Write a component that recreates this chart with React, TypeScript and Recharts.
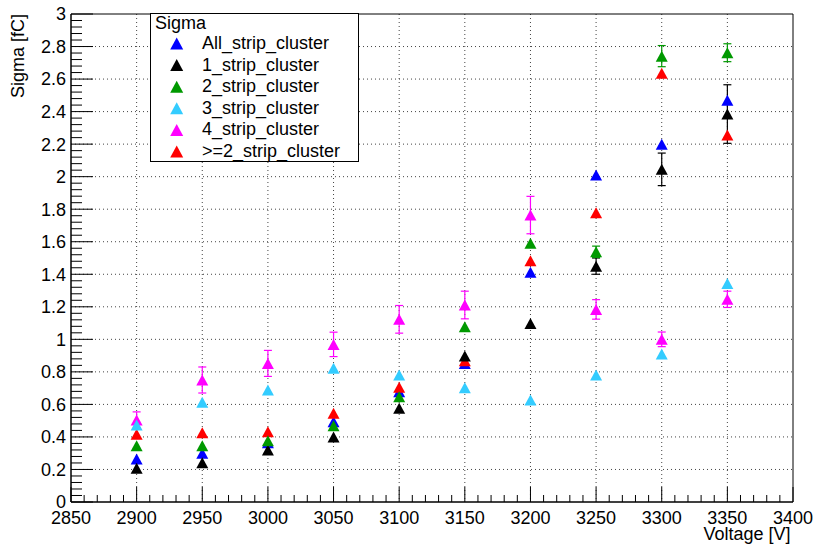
import React from 'react';
import {
  ScatterChart,
  Scatter,
  XAxis,
  YAxis,
  CartesianGrid,
  ErrorBar,
  ReferenceArea,
  Legend,
} from 'recharts';

const FONT = '"Liberation Sans", Arial, Helvetica, sans-serif';

// ---- data ----
const voltages = [2900, 2950, 3000, 3050, 3100, 3150, 3200, 3250, 3300, 3350];

const sigmaAll = [0.264, 0.3, 0.365, 0.494, 0.678, 0.852, 1.412, 2.01, 2.2, 2.47];
const errAll = [0, 0, 0, 0, 0, 0, 0, 0, 0, 0];

const sigma1 = [0.207, 0.242, 0.32, 0.4, 0.576, 0.897, 1.098, 1.45, 2.045, 2.385];
const err1 = [0, 0, 0, 0, 0, 0, 0, 0.05, 0.1, 0.18];

const sigma2 = [0.346, 0.346, 0.377, 0.469, 0.647, 1.078, 1.59, 1.538, 2.741, 2.762];
const err2 = [0, 0, 0, 0, 0, 0, 0, 0.035, 0.065, 0.055];

const sigma3 = [0.473, 0.613, 0.688, 0.822, 0.78, 0.703, 0.627, 0.78, 0.91, 1.344];
const err3 = [0, 0, 0, 0, 0, 0, 0, 0, 0, 0];

const sigma4 = [0.504, 0.75, 0.852, 0.969, 1.123, 1.211, 1.764, 1.184, 1.0, 1.246];
const err4 = [0.05, 0.08, 0.08, 0.075, 0.085, 0.085, 0.115, 0.06, 0.045, 0.05];

const sigmaGe2 = [0.416, 0.426, 0.432, 0.545, 0.705, 0.868, 1.483, 1.778, 2.635, 2.256];
const errGe2 = [0, 0, 0, 0, 0, 0, 0, 0, 0, 0];

const seriesNames = ['All_strip_cluster', '1_strip_cluster', '2_strip_cluster', '3_strip_cluster', '4_strip_cluster', '>=2_strip_cluster'];
const seriesColors = ['#0000ff', '#000000', '#009900', '#33ccff', '#ff00ff', '#ff0000'];
const seriesValues = [sigmaAll, sigma1, sigma2, sigma3, sigma4, sigmaGe2];
const seriesErrors = [errAll, err1, err2, err3, err4, errGe2];
// drawing order (later on top)
const drawOrder = [0, 5, 1, 2, 4, 3];

const legendTitle = 'Sigma';
const xTitle = 'Voltage [V]';
const yTitle = 'Sigma [fC]';

// ---- axes ----
const xMajorValues = [2850, 2900, 2950, 3000, 3050, 3100, 3150, 3200, 3250, 3300, 3350, 3400];
const xMajorLabels = ['2850', '2900', '2950', '3000', '3050', '3100', '3150', '3200', '3250', '3300', '3350', '3400'];
const xTicks = Array.from({ length: 56 }, (_, i) => 2850 + i * 10);
const xGrid = [2900, 2950, 3000, 3050, 3100, 3150, 3200, 3250, 3300, 3350];

const yMajorValues = [0, 0.2, 0.4, 0.6, 0.8, 1, 1.2, 1.4, 1.6, 1.8, 2, 2.2, 2.4, 2.6, 2.8, 3];
const yMajorLabels = ['0', '0.2', '0.4', '0.6', '0.8', '1', '1.2', '1.4', '1.6', '1.8', '2', '2.2', '2.4', '2.6', '2.8', '3'];
const yTicks = Array.from({ length: 76 }, (_, i) => Number((i * 0.04).toFixed(2)));
const yGrid = [0.2, 0.4, 0.6, 0.8, 1, 1.2, 1.4, 1.6, 1.8, 2, 2.2, 2.4, 2.6, 2.8];

const findMajor = (vals: number[], v: number) => vals.findIndex((m) => Math.abs(m - v) < 1e-6);

const XTick = (props: any) => {
  const { x, y, payload } = props;
  const idx = findMajor(xMajorValues, payload.value);
  const major = idx >= 0;
  return (
    <g>
      <line x1={x} x2={x} y1={y} y2={y - (major ? 15 : 7)} stroke="#000" strokeWidth={1} />
      {major && (
        <text x={x} y={y + 21.5} textAnchor="middle" fontSize={18} fontFamily={FONT} fill="#000">
          {xMajorLabels[idx]}
        </text>
      )}
    </g>
  );
};

const YTick = (props: any) => {
  const { x, y, payload } = props;
  const idx = findMajor(yMajorValues, payload.value);
  const major = idx >= 0;
  return (
    <g>
      <line x1={x} x2={x + (major ? 22 : 11)} y1={y} y2={y} stroke="#000" strokeWidth={1} />
      {major && (
        <text x={x - 5} y={y + 6.4} textAnchor="end" fontSize={18} fontFamily={FONT} fill="#000">
          {yMajorLabels[idx]}
        </text>
      )}
    </g>
  );
};

const triPath = (cx: number, cy: number, w: number, h: number) =>
  `M${cx - w / 2},${cy + h / 2} L${cx + w / 2},${cy + h / 2} L${cx},${cy - h / 2} Z`;

const makeShape = (color: string) => (props: any) => {
  const { cx, cy } = props;
  if (cx == null || cy == null) return <g />;
  return <path d={triPath(cx, cy, 12, 11)} fill={color} stroke="none" />;
};

const LegendBox = () => (
  <svg width={209} height={149} style={{ display: 'block' }}>
    <rect x={0.5} y={0.5} width={208} height={148} fill="#fff" stroke="#000" strokeWidth={1} />
    <text x={5} y={15.5} fontSize={18} fontFamily={FONT} fill="#000">
      {legendTitle}
    </text>
    {seriesNames.map((name, k) => (
      <g key={name}>
        <path d={triPath(26.7, 30.5 + k * 21.6, 13, 12)} fill={seriesColors[k]} />
        <text x={52} y={36 + k * 21.6} fontSize={18} fontFamily={FONT} fill="#000">
          {name}
        </text>
      </g>
    ))}
  </svg>
);

const XTitle = (props: any) => {
  const vb = props.viewBox || {};
  return (
    <text x={vb.x + vb.width - 2.5} y={vb.y + 38} textAnchor="end" fontSize={18} fontFamily={FONT} fill="#000">
      {xTitle}
    </text>
  );
};

const YTitle = (props: any) => {
  const vb = props.viewBox || {};
  const x = 24;
  const y = vb.y;
  return (
    <text x={x} y={y} transform={`rotate(-90 ${x} ${y})`} textAnchor="end" fontSize={18} fontFamily={FONT} fill="#000">
      {yTitle}
    </text>
  );
};

export default function App() {
  return (
    <div style={{ position: 'absolute', left: 0, top: 0, width: 817, height: 544, background: '#fff' }}>
      <ScatterChart width={817} height={544} margin={{ top: 14, right: 24, bottom: 0, left: 0 }}>
        <CartesianGrid
          stroke="#444"
          strokeDasharray="1 3"
          horizontalValues={yGrid}
          verticalValues={xGrid}
        />
        <XAxis
          type="number"
          dataKey="x"
          domain={[2850, 3400]}
          ticks={xTicks}
          interval={0}
          tick={<XTick />}
          tickLine={false}
          tickSize={0}
          tickMargin={0}
          axisLine={{ stroke: '#000' }}
          height={42}
          allowDataOverflow
          label={<XTitle />}
        />
        <YAxis
          type="number"
          dataKey="y"
          domain={[0, 3]}
          ticks={yTicks}
          interval={0}
          tick={<YTick />}
          tickLine={false}
          tickSize={0}
          tickMargin={0}
          axisLine={{ stroke: '#000' }}
          width={71}
          allowDataOverflow
          label={<YTitle />}
        />
        <ReferenceArea x1={2850} x2={3400} y1={0} y2={3} fill="none" stroke="#000" strokeWidth={1} ifOverflow="visible" />
        {drawOrder.map((k) => (
          <Scatter
            key={seriesNames[k]}
            name={seriesNames[k]}
            data={voltages.map((v, i) => ({ x: v, y: seriesValues[k][i], err: seriesErrors[k][i] }))}
            fill={seriesColors[k]}
            shape={makeShape(seriesColors[k])}
            isAnimationActive={false}
          >
            <ErrorBar dataKey="err" direction="y" width={4} stroke={seriesColors[k]} strokeWidth={1.2} />
          </Scatter>
        ))}
        <Legend
          layout="vertical"
          align="center"
          verticalAlign="middle"
          wrapperStyle={{ position: 'absolute', left: 150, top: 13, width: 209, height: 149, margin: 0, padding: 0 }}
          content={() => <LegendBox />}
        />
      </ScatterChart>
    </div>
  );
}
